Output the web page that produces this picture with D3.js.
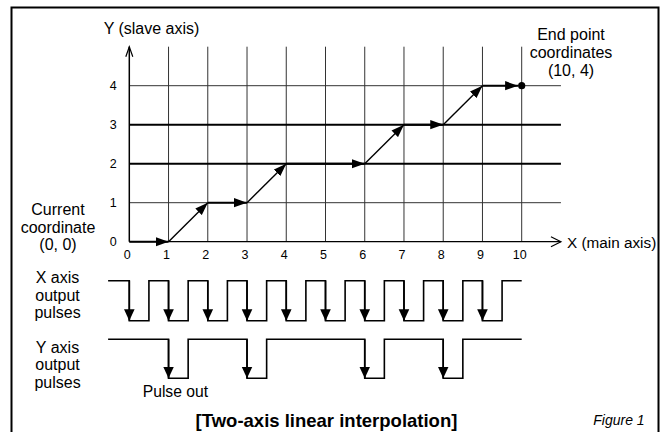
<!DOCTYPE html>
<html>
<head>
<meta charset="utf-8">
<script src="https://d3js.org/d3.v7.min.js"></script>
<style>
body { margin: 0; background: #fff; }
text { font-family: "Liberation Sans", Arial, sans-serif; fill: #000; }
</style>
</head>
<body>
<div id="chart"></div>
<script>
// grid ticks
var xTicks = [0, 1, 2, 3, 4, 5, 6, 7, 8, 9, 10];
var yTicks = [0, 1, 2, 3, 4];

// interpolated move from (0,0) to (10,4)
var moveX = [0, 1, 2, 3, 4, 6, 7, 8, 9, 10];
var moveY = [0, 0, 1, 1, 2, 2, 3, 3, 4, 4];

// where each axis puts out a pulse (falling edge), in main-axis units
var xPulseAt = [0, 1, 2, 3, 4, 5, 6, 7, 8, 9];
var yPulseAt = [1, 3, 6, 8];
var pulseWidth = 0.5;
var pulseStart = -0.54, pulseEnd = 10;

var width = 667, height = 432;

var svg = d3.select("#chart")
    .append("svg")
    .attr("width", width)
    .attr("height", height);

// frame
svg.append("rect")
    .attr("x", 11.5).attr("y", 7.5)
    .attr("width", 647).attr("height", 440)
    .attr("fill", "none")
    .attr("stroke", "black")
    .attr("stroke-width", 2);

var x = d3.scaleLinear().domain([0, 10]).range([129.3, 521.7]);
var y = d3.scaleLinear().domain([0, 4]).range([241.7, 85.7]);

// vertical grid lines
svg.selectAll("vgrid")
    .data(xTicks.slice(1))
    .enter()
    .append("line")
    .attr("x1", function(d) { return x(d) })
    .attr("x2", function(d) { return x(d) })
    .attr("y1", y(0))
    .attr("y2", y(5))
    .attr("stroke", "#333")
    .attr("stroke-width", 1);

// horizontal grid lines (2 and 3 are drawn heavier in the figure)
svg.selectAll("hgrid")
    .data(yTicks.slice(1))
    .enter()
    .append("line")
    .attr("x1", x(0))
    .attr("x2", x(11))
    .attr("y1", function(d) { return y(d) })
    .attr("y2", function(d) { return y(d) })
    .attr("stroke", function(d) { return (d == 2 || d == 3) ? "black" : "#333" })
    .attr("stroke-width", function(d) { return (d == 2 || d == 3) ? 2 : 1 });

// axis lines with open arrow heads
svg.append("line")
    .attr("x1", x(0)).attr("x2", x(0))
    .attr("y1", y(0)).attr("y2", y(5))
    .attr("stroke", "black").attr("stroke-width", 1.5);
svg.append("path")
    .attr("d", "M" + (x(0) - 3.5) + "," + (y(5) + 10) + "L" + x(0) + "," + y(5) + "L" + (x(0) + 3.5) + "," + (y(5) + 10))
    .attr("fill", "none").attr("stroke", "black").attr("stroke-width", 1.2);

svg.append("line")
    .attr("x1", x(0)).attr("x2", x(11))
    .attr("y1", y(0)).attr("y2", y(0))
    .attr("stroke", "black").attr("stroke-width", 1.2);
svg.append("path")
    .attr("d", "M" + (x(11) - 10) + "," + (y(0) - 5) + "L" + x(11) + "," + y(0) + "L" + (x(11) - 10) + "," + (y(0) + 5))
    .attr("fill", "none").attr("stroke", "black").attr("stroke-width", 1.2);

// tick labels
var xAxis = svg.append("g")
    .attr("transform", "translate(0," + y(0) + ")")
    .call(d3.axisBottom(x).tickValues(xTicks).tickFormat(d3.format("d")).tickSize(0).tickPadding(8));
xAxis.select(".domain").remove();
xAxis.selectAll("text")
    .attr("dx", -2.5)
    .style("font-family", "'Liberation Sans', Arial, sans-serif")
    .style("font-size", "12.5px")
    .attr("fill", "black");

var yAxis = svg.append("g")
    .attr("transform", "translate(" + x(0) + ",0)")
    .call(d3.axisLeft(y).tickValues(yTicks).tickFormat(d3.format("d")).tickSize(0).tickPadding(12.5));
yAxis.select(".domain").remove();
yAxis.selectAll("text")
    .style("font-family", "'Liberation Sans', Arial, sans-serif")
    .style("font-size", "12.5px")
    .attr("fill", "black");

// arrow head markers
var defs = svg.append("defs");
defs.append("marker")
    .attr("id", "arrow")
    .attr("markerUnits", "userSpaceOnUse")
    .attr("viewBox", "0 -5 13 10")
    .attr("refX", 13).attr("refY", 0)
    .attr("markerWidth", 13).attr("markerHeight", 10)
    .attr("orient", "auto")
    .append("path")
    .attr("d", "M0,-4.6L13,0L0,4.6Z")
    .attr("fill", "black");
defs.append("marker")
    .attr("id", "pulseArrow")
    .attr("markerUnits", "userSpaceOnUse")
    .attr("viewBox", "0 -6 12 12")
    .attr("refX", 11.5).attr("refY", 0)
    .attr("markerWidth", 12).attr("markerHeight", 12)
    .attr("orient", "auto")
    .append("path")
    .attr("d", "M0,-5.3L11.5,0L0,5.3Z")
    .attr("fill", "black");

// the interpolated path, one arrow per step
var pts = moveX.map(function(d, i) { return [d, moveY[i]] });
var segs = d3.pairs(pts);
var dotR = 3.6;
svg.selectAll("moves")
    .data(segs)
    .enter()
    .append("line")
    .attr("x1", function(d) { return x(d[0][0]) })
    .attr("y1", function(d) { return y(d[0][1]) })
    .attr("x2", function(d, i) { return x(d[1][0]) - (i == segs.length - 1 ? dotR : 0) })
    .attr("y2", function(d) { return y(d[1][1]) })
    .attr("stroke", "black")
    .attr("stroke-width", function(d) { return d[0][1] == d[1][1] ? 2 : 1.4 })
    .attr("marker-end", "url(#arrow)");

svg.append("circle")
    .attr("cx", x(moveX[moveX.length - 1]))
    .attr("cy", y(moveY[moveY.length - 1]))
    .attr("r", dotR)
    .attr("fill", "black");

// pulse trains
function drawPulses(falls, top, bottom) {
    var p = [[pulseStart, top]];
    falls.forEach(function(f) {
        p.push([f, top], [f, bottom], [f + pulseWidth, bottom], [f + pulseWidth, top]);
    });
    p.push([pulseEnd, top]);
    svg.append("path")
        .attr("d", d3.line().x(function(d) { return x(d[0]) }).y(function(d) { return d[1] })(p))
        .attr("fill", "none")
        .attr("stroke", "black")
        .attr("stroke-width", 1.6);
    svg.selectAll(null)
        .data(falls)
        .enter()
        .append("line")
        .attr("x1", function(d) { return x(d) })
        .attr("x2", function(d) { return x(d) })
        .attr("y1", top)
        .attr("y2", bottom)
        .attr("stroke", "black")
        .attr("stroke-width", 1.6)
        .attr("marker-end", "url(#pulseArrow)");
}
drawPulses(xPulseAt, 280.7, 320.7);
drawPulses(yPulseAt, 339.3, 378.3);

// labels
function label(lines, cx, y0, step, size, anchor) {
    var t = svg.append("text")
        .attr("text-anchor", anchor || "middle")
        .style("font-size", size + "px");
    lines.forEach(function(s, i) {
        t.append("tspan").attr("x", cx).attr("y", y0 + i * step).text(s);
    });
    return t;
}
label(["Y (slave axis)"], 151.5, 34, 0, 16);
label(["Current", "coordinate", "(0, 0)"], 58, 215, 17.6, 16);
label(["End point", "coordinates", "(10, 4)"], 571, 40, 18.2, 16);
label(["X (main axis)"], 567, 247.5, 0, 15.3, "start");
label(["X axis", "output", "pulses"], 57.5, 282.6, 17.9, 16);
label(["Y axis", "output", "pulses"], 57.5, 352.5, 17.9, 16);
label(["Pulse out"], 142.7, 397.3, 0, 15.7, "start");
label(["[Two-axis linear interpolation]"], 326.5, 426.5, 0, 18.5)
    .style("font-weight", "bold");
label(["Figure 1"], 593.3, 425, 0, 14, "start")
    .style("font-style", "italic");
</script>
</body>
</html>
